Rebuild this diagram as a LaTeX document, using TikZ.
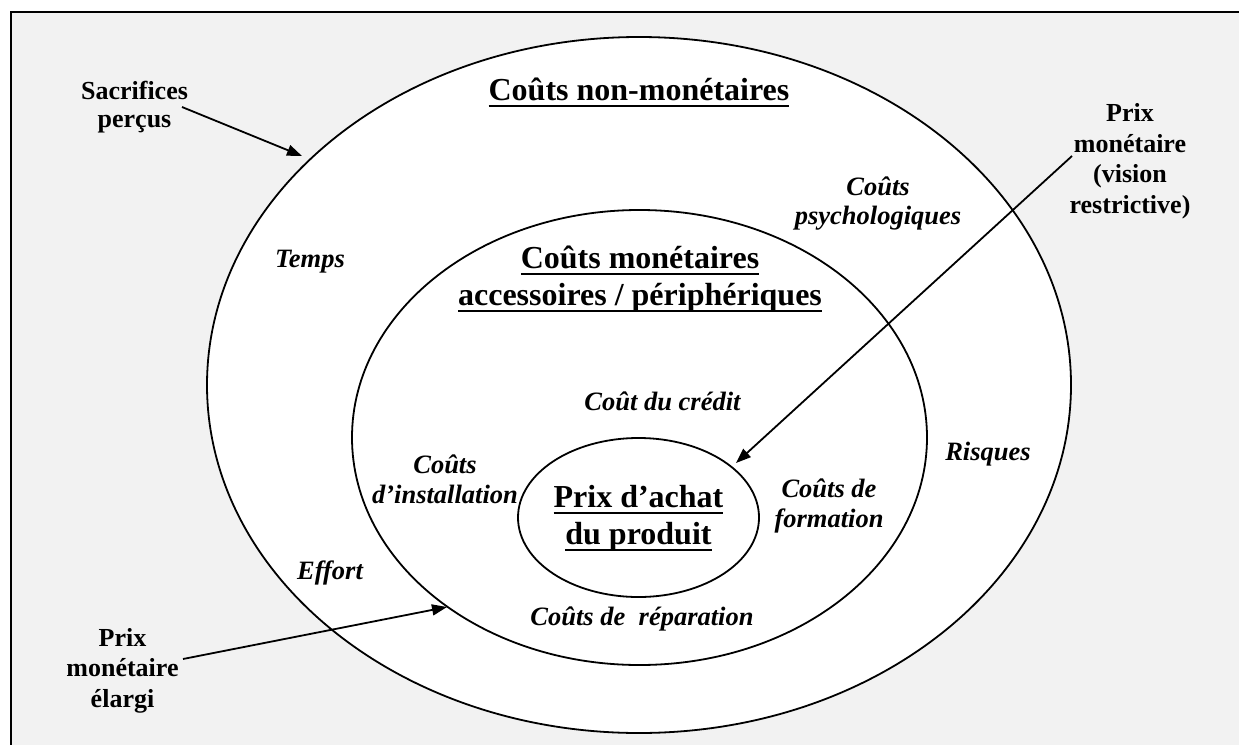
\documentclass[tikz,border=0pt]{standalone}
\usepackage{fontspec}
\setmainfont{Liberation Serif}
\usetikzlibrary{arrows.meta,shapes.geometric}
\definecolor{bggray}{HTML}{F2F2F2}
\newcommand\uln[1]{\leavevmode\setbox0\hbox{#1}\rlap{\copy0}\rule[-7.2pt]{\wd0}{2.6pt}}
\begin{document}
\begin{tikzpicture}[x=1pt,y=-1pt,
  ring/.style={ellipse,draw,fill=white,line width=1.8pt,inner sep=0pt},
  lbl/.style={anchor=base,inner sep=0pt,align=center},
  ttl/.style={lbl,font=\fontsize{32}{37}\selectfont\bfseries},
  side/.style={lbl,font=\fontsize{26}{#1}\selectfont\bfseries},
  itl/.style={lbl,font=\fontsize{26.5}{#1}\selectfont\bfseries\itshape},
  arr/.style={line width=1.8pt,-{Triangle[length=15pt,width=11pt]}}]
\useasboundingbox (0,0) rectangle (1239,744);
\begin{scope}
\clip (0,0) rectangle (1239,744);
\draw[line width=2pt,fill=bggray] (11,12) rectangle (1260,770);
\end{scope}
\node[ring,minimum width=864pt,minimum height=696pt] (outer) at (639,385) {};
\node[ring,minimum width=575pt,minimum height=455pt] (middle) at (639.5,437.5) {};
\node[ring,minimum width=241pt,minimum height=159pt] (inner) at (638.5,517.5) {};
% titles (base anchor = baseline of last line)
\node[ttl] (t1) at (639,100) {\uln{Coûts non-monétaires}};
\node[ttl] (t2) at (640,305) {\uln{Coûts monétaires}\\\uln{accessoires / périphériques}};
\node[ttl] (t3) at (638.5,544) {\uln{Prix d’achat}\\\uln{du produit}};
% side labels
\node[side=28] (sac) at (134.5,127) {Sacrifices\\perçus};
\node[side=30.5] (pme) at (122.5,707) {Prix\\monétaire\\élargi};
\node[side=30.5] (pmr) at (1130,213) {Prix\\monétaire\\(vision\\restrictive)};
% italic labels
\node[itl=29] (temps) at (310,267) {Temps};
\node[itl=29] (psy) at (878,224) {Coûts\\psychologiques};
\node[itl=29] (risq) at (988,460) {Risques};
\node[itl=29] (eff) at (330,579) {Effort};
\node[itl=29] (cred) at (662.5,410) {Coût du crédit};
\node[itl=30] (inst) at (445,503) {Coûts\\d’installation};
\node[itl=30] (form) at (829,527) {Coûts de\\formation};
\node[itl=29] (rep) at (642,625) {Coûts de~ réparation};
% arrows
\coordinate (sacA) at (182,107);
\coordinate (sacB) at (302,156);
\coordinate (pmeA) at (183,659);
\coordinate (pmeB) at (447,607);
\coordinate (pmrA) at (1072,156);
\coordinate (pmrB) at (736,463);
\draw[arr] (sacA) -- (sacB);
\draw[arr] (pmeA) -- (pmeB);
\draw[arr] (pmrA) -- (pmrB);
\end{tikzpicture}
\end{document}
